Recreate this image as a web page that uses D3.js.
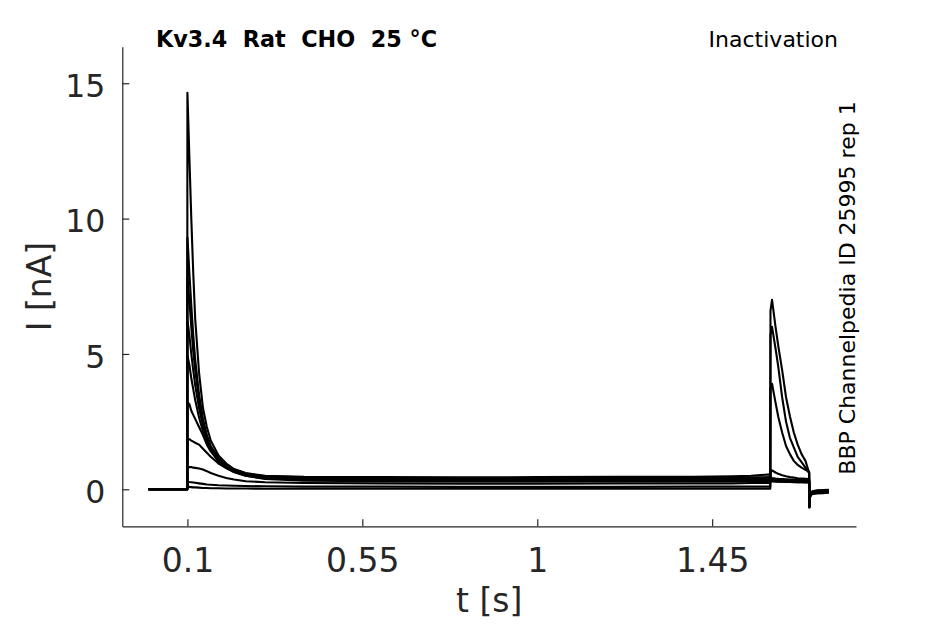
<!DOCTYPE html>
<html>
<head>
<meta charset="utf-8">
<script src="https://cdn.jsdelivr.net/npm/d3@7"></script>
<style>
  body { margin: 0; background: #fff; }
  svg { display: block; font-family: "DejaVu Sans", sans-serif; }
</style>
</head>
<body>
<script>
// ---- data (time in s, current in nA) ----
const times = [0, 0.0995, 0.1, 0.101, 0.105, 0.11, 0.115, 0.12, 0.13, 0.14, 0.15, 0.16, 0.18, 0.2, 0.22, 0.25, 0.3, 0.4, 0.6, 0.8, 1.0, 1.2, 1.4, 1.5, 1.55, 1.5995, 1.6, 1.604, 1.613, 1.62, 1.63, 1.64, 1.65, 1.66, 1.67, 1.68, 1.69, 1.6995, 1.7, 1.7015, 1.705, 1.71, 1.72, 1.735, 1.75];

const traceA = [0, 0, 14.65, 14.2, 12.3, 10.0, 8.0, 6.3, 4.3, 3.0, 2.3, 1.8, 1.25, 0.95, 0.75, 0.6, 0.5, 0.46, 0.45, 0.44, 0.45, 0.46, 0.46, 0.48, 0.5, 0.55, 0.45, 0.42, 0.4, 0.39, 0.38, 0.37, 0.36, 0.35, 0.34, 0.34, 0.33, 0.33, -0.65, -0.3, -0.2, -0.17, -0.15, -0.14, -0.13];
const traceB = [0, 0, 9.3, 9.1, 8.0, 6.8, 5.7, 4.8, 3.5, 2.6, 2.0, 1.6, 1.15, 0.9, 0.72, 0.58, 0.48, 0.44, 0.42, 0.42, 0.41, 0.42, 0.42, 0.43, 0.44, 0.45, 0.4, 0.38, 0.37, 0.36, 0.35, 0.34, 0.33, 0.33, 0.32, 0.32, 0.31, 0.31, -0.65, -0.28, -0.18, -0.15, -0.13, -0.12, -0.12];
const traceC = [0, 0, 7.8, 7.7, 7.0, 6.0, 5.1, 4.4, 3.3, 2.5, 1.95, 1.55, 1.1, 0.85, 0.7, 0.55, 0.45, 0.41, 0.4, 0.39, 0.4, 0.39, 0.4, 0.41, 0.42, 0.42, 0.36, 0.35, 0.34, 0.33, 0.32, 0.31, 0.31, 0.3, 0.3, 0.29, 0.29, 0.29, -0.62, -0.27, -0.17, -0.14, -0.12, -0.11, -0.1];
const traceD = [0, 0, 6.2, 6.15, 5.7, 5.0, 4.4, 3.85, 3.0, 2.35, 1.85, 1.5, 1.05, 0.82, 0.68, 0.53, 0.43, 0.39, 0.37, 0.37, 0.36, 0.37, 0.37, 0.38, 0.38, 0.39, 0.33, 0.32, 0.31, 0.3, 0.3, 0.29, 0.29, 0.28, 0.28, 0.27, 0.27, 0.27, -0.6, -0.25, -0.15, -0.12, -0.1, -0.09, -0.08];
const traceE = [0, 0, 4.9, 4.88, 4.6, 4.1, 3.7, 3.3, 2.65, 2.15, 1.75, 1.45, 1.0, 0.78, 0.64, 0.5, 0.4, 0.36, 0.35, 0.34, 0.34, 0.35, 0.35, 0.35, 0.36, 0.36, 0.31, 0.3, 0.29, 0.29, 0.28, 0.28, 0.27, 0.27, 0.26, 0.26, 0.26, 0.26, -0.6, -0.24, -0.14, -0.11, -0.09, -0.08, -0.07];
const traceF = [0, 0, 3.1, 3.2, 3.15, 2.9, 2.75, 2.6, 2.3, 2.0, 1.65, 1.4, 1.05, 0.85, 0.7, 0.55, 0.42, 0.36, 0.33, 0.32, 0.32, 0.33, 0.33, 0.33, 0.34, 0.34, 0.3, 0.3, 0.29, 0.28, 0.28, 0.27, 0.27, 0.26, 0.26, 0.26, 0.25, 0.25, -0.6, -0.24, -0.14, -0.1, -0.08, -0.07, -0.06];
const traceG = [0, 0, 1.7, 1.85, 1.85, 1.8, 1.76, 1.72, 1.65, 1.5, 1.35, 1.2, 0.95, 0.78, 0.64, 0.5, 0.38, 0.32, 0.3, 0.29, 0.29, 0.3, 0.3, 0.3, 0.31, 0.31, 0.6, 0.7, 0.62, 0.57, 0.52, 0.48, 0.45, 0.43, 0.41, 0.4, 0.39, 0.38, -0.6, -0.22, -0.13, -0.1, -0.08, -0.07, -0.06];
const traceH = [0, 0, 0.7, 0.8, 0.82, 0.82, 0.8, 0.79, 0.77, 0.73, 0.67, 0.6, 0.5, 0.42, 0.36, 0.3, 0.26, 0.23, 0.22, 0.21, 0.21, 0.22, 0.22, 0.22, 0.23, 0.23, 3.7, 3.9, 3.2, 2.68, 2.1, 1.6, 1.3, 1.05, 0.9, 0.8, 0.72, 0.65, -0.65, -0.25, -0.15, -0.11, -0.09, -0.08, -0.07];
const traceI = [0, 0, 0.25, 0.28, 0.27, 0.26, 0.25, 0.24, 0.22, 0.2, 0.18, 0.17, 0.15, 0.14, 0.13, 0.12, 0.11, 0.1, 0.1, 0.09, 0.09, 0.09, 0.1, 0.1, 0.1, 0.1, 5.7, 6.0, 5.2, 4.53, 3.4, 2.5, 1.9, 1.55, 1.2, 1.0, 0.8, 0.6, -0.65, -0.22, -0.12, -0.08, -0.06, -0.05, -0.04];
const traceJ = [0, 0, 0.08, 0.1, 0.09, 0.08, 0.07, 0.07, 0.06, 0.05, 0.05, 0.04, 0.04, 0.03, 0.03, 0.03, 0.02, 0.02, 0.02, 0.02, 0.02, 0.02, 0.02, 0.02, 0.02, 0.02, 6.6, 7.0, 6.0, 5.3, 4.4, 3.4, 2.7, 2.1, 1.65, 1.3, 1.05, 0.6, -0.68, -0.2, -0.1, -0.06, -0.04, -0.03, -0.02];

const xTicks = [0.1, 0.55, 1, 1.45];
const yTicks = [0, 5, 10, 15];
const xDomain = [-0.0675, 1.82];
const yDomain = [-1.367, 16.35];

const titleText = "Kv3.4  Rat  CHO  25 °C";
const protocolText = "Inactivation";
const sideText = "BBP Channelpedia ID 25995 rep 1";
const xLabel = "t [s]";
const yLabel = "I [nA]";

// ---- drawing ----
const W = 945, H = 624;
const plotLeft = 122.3, plotRight = 856, plotTop = 46.7, plotBottom = 526.3;
const axisColor = "#262626";

const svg = d3.select("body").append("svg").attr("width", W).attr("height", H);

const x = d3.scaleLinear().domain(xDomain).range([plotLeft, plotRight]);
const y = d3.scaleLinear().domain(yDomain).range([plotBottom, plotTop]);

const traces = [traceA, traceB, traceC, traceD, traceE, traceF, traceG, traceH, traceI, traceJ];
const line = d3.line().x(d => x(d[0])).y(d => y(d[1]));

svg.append("g").selectAll("path")
  .data(traces)
  .join("path")
  .attr("d", tr => line(times.map((t, i) => [t, tr[i]])))
  .attr("fill", "none")
  .attr("stroke", "#000")
  .attr("stroke-width", 2.1)
  .attr("stroke-linejoin", "round");

// x axis
const gx = svg.append("g").attr("transform", `translate(0,${plotBottom})`)
  .call(d3.axisBottom(x).tickValues(xTicks).tickFormat(d3.format("")).tickSizeInner(-7).tickSizeOuter(0).tickPadding(22.6));
gx.select(".domain").attr("stroke", axisColor).attr("stroke-width", 1.2);
gx.selectAll(".tick line").attr("stroke", axisColor).attr("stroke-width", 1.2);
gx.selectAll(".tick text").attr("fill", axisColor).attr("font-size", 33).attr("font-family", "DejaVu Sans");

// y axis
const gy = svg.append("g").attr("transform", `translate(${plotLeft},0)`)
  .call(d3.axisLeft(y).tickValues(yTicks).tickFormat(d3.format("")).tickSizeInner(-7).tickSizeOuter(0).tickPadding(17));
gy.select(".domain").attr("stroke", axisColor).attr("stroke-width", 1.2);
gy.selectAll(".tick line").attr("stroke", axisColor).attr("stroke-width", 1.2);
gy.selectAll(".tick text").attr("fill", axisColor).attr("font-size", 31.5).attr("font-family", "DejaVu Sans").attr("dy", "0.42em");

// axis labels
svg.append("text").text(xLabel)
  .attr("x", (plotLeft + plotRight) / 2).attr("y", 612)
  .attr("text-anchor", "middle").attr("font-size", 33).attr("fill", axisColor);
svg.append("text").text(yLabel)
  .attr("transform", `translate(51,${(plotTop + plotBottom) / 2}) rotate(-90)`)
  .attr("text-anchor", "middle").attr("font-size", 33).attr("fill", axisColor);

// title texts
svg.append("text").text(titleText)
  .attr("x", 156).attr("y", 46.7)
  .attr("font-size", 22.3).attr("font-weight", "bold").attr("fill", "#000")
  .style("white-space", "pre");
svg.append("text").text(protocolText)
  .attr("x", 838).attr("y", 46.7).attr("text-anchor", "end")
  .attr("font-size", 22).attr("fill", "#000");
svg.append("text").text(sideText)
  .attr("transform", `translate(855,288) rotate(-90)`)
  .attr("text-anchor", "middle").attr("font-size", 22).attr("fill", "#000");
</script>
</body>
</html>
